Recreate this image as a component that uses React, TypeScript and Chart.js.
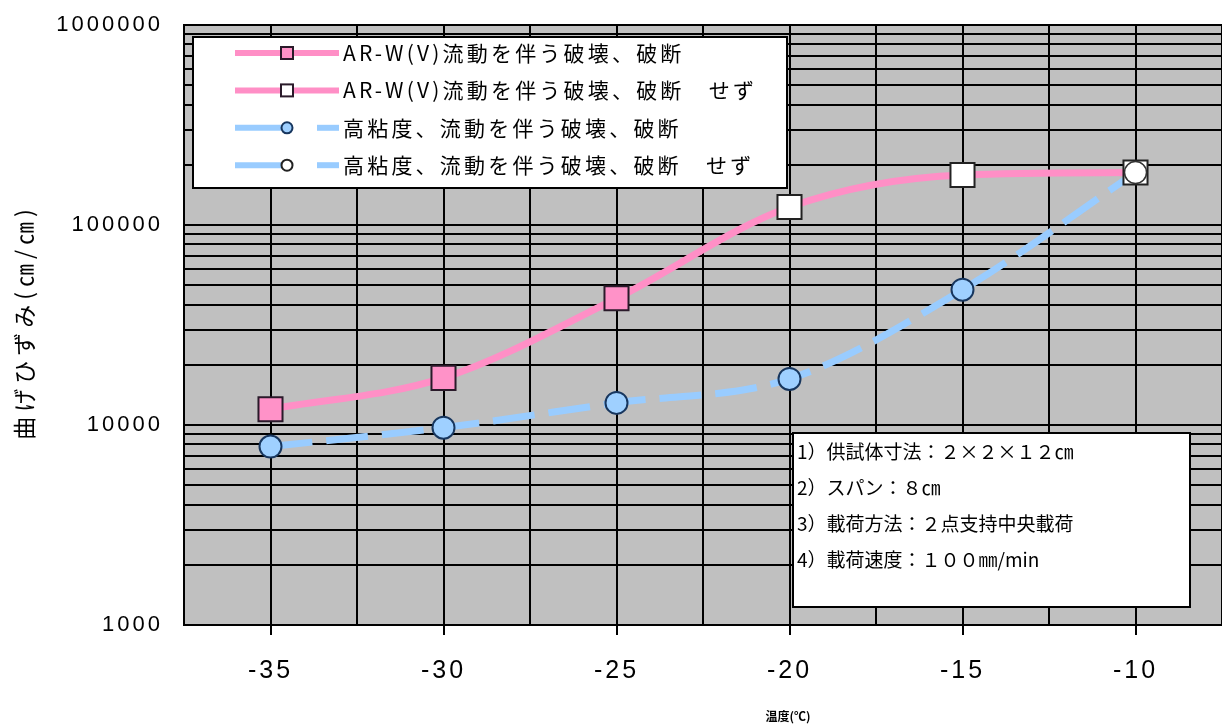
import React, { useEffect, useRef } from 'react';
import { Chart, registerables } from 'chart.js';

Chart.register(...registerables);

// ---- data ----
const temperatures = [-35, -30, -25, -20, -15, -10];
const arwStrain = [12000, 17200, 43000, 123000, 178000, 183000];
const hvStrain = [7800, 9700, 12900, 17000, 47500, 183000];
const arwFractured = [true, true, true, false, false, false];
const hvFractured = [true, true, true, true, true, false];
const seriesLabels = [
  'AR-W(V)流動を伴う破壊、破断',
  'AR-W(V)流動を伴う破壊、破断　せず',
  '高粘度、流動を伴う破壊、破断',
  '高粘度、流動を伴う破壊、破断　せず',
];
const xTickValues = [-35, -30, -25, -20, -15, -10];
const xTickLabels = ['-35', '-30', '-25', '-20', '-15', '-10'];
const yTickValues = [1000, 10000, 100000, 1000000];
const yTickLabels = ['1000', '10000', '100000', '1000000'];
const yGridDigits = [1, 2, 3, 4, 5, 6, 7, 8, 9];
const noteLines = [
  '1）供試体寸法：２×２×１２㎝',
  '2）スパン：８㎝',
  '3）載荷方法：２点支持中央載荷',
  '4）載荷速度：１００㎜/min',
];
const yTitle = '曲げひずみ(㎝/㎝)';
const xTitle = '温度(℃)';

// ---- styles ----
const PINK = '#ff8fc6';
const BLUE = '#99ccff';
const PINK_MARK = '#ff92c8';
const BLUE_MARK = '#9fd0ff';
const DARK = '#2a1a2a';
const NAVY = '#17365e';
const JP = "'Noto Sans CJK JP', sans-serif";

const pts = (vals: number[], mask?: boolean[]) =>
  temperatures.map((t, i) => ({ x: t, y: mask && !mask[i] ? null : vals[i] }));

const overlayPlugin = {
  id: 'overlay',
  beforeDraw(chart: any) {
    const { ctx, chartArea: a } = chart;
    ctx.save();
    ctx.fillStyle = '#c0c0c0';
    ctx.fillRect(a.left, a.top, a.right - a.left, a.bottom - a.top);
    ctx.restore();
    (ctx as any).letterSpacing = '3px';
  },
  beforeDatasetsDraw(chart: any) {
    (chart.ctx as any).letterSpacing = '0px';
  },
  afterDraw(chart: any) {
    const { ctx, chartArea: a } = chart;
    ctx.save();
    // legend box
    const bx = a.left + 9, by = a.top + 12, bw = 594, bh = 151;
    ctx.fillStyle = '#fff';
    ctx.fillRect(bx, by, bw, bh);
    ctx.strokeStyle = '#000';
    ctx.lineWidth = 2;
    ctx.strokeRect(bx, by, bw, bh);
    const lx0 = bx + 42, lx1 = bx + 146, mx = bx + 94, tx = bx + 150;
    seriesLabels.forEach((label, i) => {
      const y = by + 16 + i * 37.4;
      const isPink = i < 2;
      const fractured = i % 2 === 0;
      ctx.lineCap = 'butt';
      ctx.lineWidth = 6;
      if (isPink) {
        ctx.strokeStyle = PINK;
        ctx.beginPath(); ctx.moveTo(lx0, y); ctx.lineTo(lx1, y); ctx.stroke();
        ctx.fillStyle = fractured ? PINK_MARK : '#fff';
        ctx.fillRect(mx - 6, y - 6, 12, 12);
        ctx.lineWidth = 2; ctx.strokeStyle = DARK;
        ctx.strokeRect(mx - 6, y - 6, 12, 12);
      } else {
        ctx.strokeStyle = BLUE;
        ctx.beginPath(); ctx.moveTo(lx0, y); ctx.lineTo(mx - 6, y); ctx.stroke();
        ctx.beginPath(); ctx.moveTo(lx1 - 22, y); ctx.lineTo(lx1, y); ctx.stroke();
        ctx.fillStyle = fractured ? BLUE_MARK : '#fff';
        ctx.beginPath(); ctx.arc(mx, y, 5.5, 0, Math.PI * 2); ctx.fill();
        ctx.lineWidth = 2; ctx.strokeStyle = fractured ? NAVY : '#222';
        ctx.stroke();
      }
      ctx.fillStyle = '#000';
      ctx.font = `21px ${JP}`;
      (ctx as any).letterSpacing = '3.2px';
      ctx.textAlign = 'left';
      ctx.textBaseline = 'middle';
      ctx.fillText(label, tx, y);
      (ctx as any).letterSpacing = '0px';
    });

    // notes box
    const nx = a.left + 609, ny = a.top + 408, nw = 397, nh = 174;
    ctx.fillStyle = '#fff';
    ctx.fillRect(nx, ny, nw, nh);
    ctx.strokeStyle = '#000';
    ctx.lineWidth = 2;
    ctx.strokeRect(nx, ny, nw, nh);
    ctx.fillStyle = '#000';
    ctx.font = `19px ${JP}`;
    ctx.textAlign = 'left';
    ctx.textBaseline = 'middle';
    noteLines.forEach((line, i) => {
      ctx.fillText(line, nx + 4, ny + 19 + i * 36);
    });

    // y title (rotated, letter-spaced)
    ctx.save();
    ctx.translate(24, (a.top + a.bottom) / 2 - 3);
    ctx.rotate(-Math.PI / 2);
    ctx.font = `23px ${JP}`;
    (ctx as any).letterSpacing = '5px';
    ctx.textAlign = 'center';
    ctx.textBaseline = 'middle';
    ctx.fillText(yTitle, 0, 0);
    ctx.restore();

    // x title
    ctx.fillStyle = '#000';
    ctx.font = `bold 12px ${JP}`;
    ctx.textAlign = 'center';
    ctx.textBaseline = 'middle';
    ctx.fillText(xTitle, a.left + (a.right - a.left) * 0.582, a.bottom + 91);
    ctx.restore();
  },
};

export default function App() {
  const ref = useRef<HTMLCanvasElement | null>(null);
  useEffect(() => {
    document.body.style.margin = '0';
    const canvas = ref.current;
    if (!canvas) return;
    const chart = new Chart(canvas, {
      type: 'line',
      data: {
        datasets: [
          {
            label: 'pink-line',
            data: pts(arwStrain),
            borderColor: PINK,
            borderWidth: 7,
            pointRadius: 0,
            tension: 0.4,
            cubicInterpolationMode: 'monotone',
            fill: false,
            order: 10,
          },
          {
            label: 'blue-line',
            data: pts(hvStrain),
            borderColor: BLUE,
            borderWidth: 7,
            borderDash: [42, 14],
            pointRadius: 0,
            tension: 0.4,
            cubicInterpolationMode: 'monotone',
            fill: false,
            order: 11,
          },
          {
            label: seriesLabels[0],
            data: pts(arwStrain, arwFractured),
            showLine: false,
            pointStyle: 'rect',
            pointRadius: 17,
            pointBackgroundColor: PINK_MARK,
            pointBorderColor: DARK,
            pointBorderWidth: 2,
            order: 3,
          },
          {
            label: seriesLabels[1],
            data: pts(arwStrain, arwFractured.map((f) => !f)),
            showLine: false,
            pointStyle: 'rect',
            pointRadius: 17,
            pointBackgroundColor: '#fff',
            pointBorderColor: '#222',
            pointBorderWidth: 2,
            order: 2,
          },
          {
            label: seriesLabels[2],
            data: pts(hvStrain, hvFractured),
            showLine: false,
            pointStyle: 'circle',
            pointRadius: 11,
            pointBackgroundColor: BLUE_MARK,
            pointBorderColor: NAVY,
            pointBorderWidth: 2,
            order: 1,
          },
          {
            label: seriesLabels[3],
            data: pts(hvStrain, hvFractured.map((f) => !f)),
            showLine: false,
            pointStyle: 'circle',
            pointRadius: 11,
            pointBackgroundColor: '#fff',
            pointBorderColor: '#333',
            pointBorderWidth: 1.5,
            order: 0,
          },
        ] as any,
      },
      options: {
        responsive: false,
        animation: false,
        layout: { autoPadding: false, padding: { top: 25, left: 0, right: 0, bottom: 0 } },
        plugins: { legend: { display: false }, tooltip: { enabled: false } },
        scales: {
          x: {
            type: 'linear',
            min: -37.5,
            max: -7.5,
            afterFit: (s: any) => {
              s.height = 103;
              s.paddingLeft = 0; s.paddingRight = 0; s.paddingTop = 0; s.paddingBottom = 0;
            },
            ticks: {
              stepSize: 2.5,
              autoSkip: false,
              maxRotation: 0,
              padding: 21,
              color: '#000',
              font: { family: "'Liberation Sans Narrow', 'Liberation Sans', sans-serif", size: 25 },
              callback: (v: any) => {
                const i = xTickValues.indexOf(Number(v));
                return i >= 0 ? xTickLabels[i] : '';
              },
            },
            grid: {
              color: '#000',
              lineWidth: 2,
              tickLength: 10,
              tickColor: (c: any) =>
                c.tick && xTickValues.indexOf(c.tick.value) >= 0 ? '#000' : 'rgba(0,0,0,0)',
            },
            border: { color: '#000', width: 2 },
          },
          y: {
            type: 'logarithmic',
            min: 1000,
            max: 1000000,
            afterFit: (s: any) => {
              s.width = 184;
              s.paddingLeft = 0; s.paddingRight = 0; s.paddingTop = 0; s.paddingBottom = 0;
            },
            afterBuildTicks: (s: any) => {
              const ticks: any[] = [];
              for (let d = 0; d < yTickValues.length; d++) {
                const base = yTickValues[d];
                if (d === yTickValues.length - 1) { ticks.push({ value: base }); break; }
                yGridDigits.forEach((k) => ticks.push({ value: base * k }));
              }
              s.ticks = ticks;
            },
            ticks: {
              autoSkip: false,
              padding: 21,
              color: '#000',
              font: { family: "'Liberation Sans', sans-serif", size: 22 },
              callback: (v: any) => {
                const i = yTickValues.indexOf(Number(v));
                return i >= 0 ? yTickLabels[i] : '';
              },
            },
            grid: { color: '#000', lineWidth: 2, drawTicks: false },
            border: { color: '#000', width: 2 },
          },
        },
      } as any,
      plugins: [overlayPlugin],
    });
    return () => chart.destroy();
  }, []);
  return (
    <div style={{ width: 1222, height: 728 }}>
      <canvas ref={ref} width={1222} height={728} style={{ display: 'block' }} />
    </div>
  );
}
